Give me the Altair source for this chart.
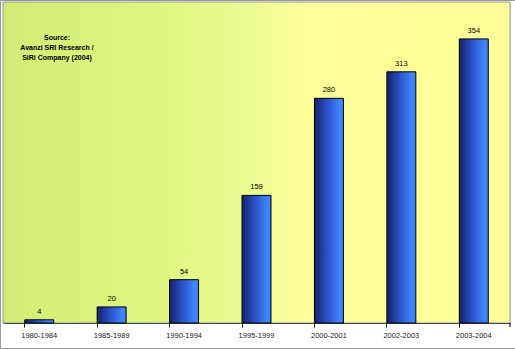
import altair as alt
import pandas as pd

periods = ["1980-1984", "1985-1989", "1990-1994", "1995-1999", "2000-2001", "2002-2003", "2003-2004"]
counts = [4, 20, 54, 159, 280, 313, 354]
source_lines = ["Source:", "Avanzi SRI Research /", "SiRi Company (2004)"]

W, H = 507, 321
FONT = "Liberation Sans"

df = pd.DataFrame({"period": periods, "count": counts})
one = pd.DataFrame({"k": [0]})

bg_grad = alt.Gradient(
    gradient="linear", x1=0, x2=1, y1=0, y2=0,
    stops=[
        alt.GradientStop(offset=0, color="#d2ec76"),
        alt.GradientStop(offset=0.28, color="#dcf67f"),
        alt.GradientStop(offset=0.5, color="#ecfb94"),
        alt.GradientStop(offset=0.6, color="#fcfe99"),
        alt.GradientStop(offset=1, color="#ffff99"),
    ],
)
bar_grad = alt.Gradient(
    gradient="linear", x1=0, x2=1, y1=0, y2=0,
    stops=[
        alt.GradientStop(offset=0, color="#16226a"),
        alt.GradientStop(offset=0.45, color="#2a52c8"),
        alt.GradientStop(offset=0.88, color="#3f86ff"),
        alt.GradientStop(offset=1, color="#3a7ef8"),
    ],
)

background = alt.Chart(one).mark_rect(fill=bg_grad, stroke="#999999", strokeWidth=1).encode(
    x=alt.value(0), x2=alt.value(W), y=alt.value(0), y2=alt.value(H)
)

xscale = alt.Scale(domain=periods, paddingInner=0.6, paddingOuter=0.3)
yscale = alt.Scale(domain=[0, 400])

bars = alt.Chart(df).mark_bar(fill=bar_grad, stroke="black", strokeWidth=1).encode(
    x=alt.X("period:N", scale=xscale, sort=periods,
            axis=alt.Axis(title=None, labelAngle=0, bandPosition=0, domainColor="black",
                          tickColor="black", tickSize=4, labelFont=FONT, labelFontSize=7.5,
                          labelColor="#222222", labelPadding=4, ticks=True, grid=False)),
    y=alt.Y("count:Q", scale=yscale, axis=None),
)

labels = alt.Chart(df).mark_text(font=FONT, fontSize=7.5, color="black", dy=-8, baseline="middle").encode(
    x=alt.X("period:N", scale=xscale, sort=periods),
    y=alt.Y("count:Q", scale=yscale),
    text="count:Q",
)

end_tick = alt.Chart(one).mark_rule(color="black").encode(
    x=alt.value(W), y=alt.value(H), y2=alt.value(H + 4)
)

source = alt.Chart(one).mark_text(
    text=source_lines, font=FONT, fontSize=7, fontWeight="bold", color="black",
    align="center", baseline="middle", lineHeight=10,
).encode(x=alt.value(54), y=alt.value(36))

border = alt.Chart(one).mark_rect(fill=None, stroke="#9a9a9a", strokeWidth=1).encode(
    x=alt.value(-2.5), x2=alt.value(W + 5.5), y=alt.value(-1.5), y2=alt.value(H + 25.5)
)

chart = alt.layer(background, bars, labels, end_tick, source, border).properties(
    width=W, height=H,
    autosize=alt.AutoSizeParams(type="none"),
    padding={"left": 3, "top": 2, "right": 5, "bottom": 26},
).configure_view(stroke=None).configure(background="white")

chart.save("out.html", embed_options={"renderer": "svg", "actions": False})
